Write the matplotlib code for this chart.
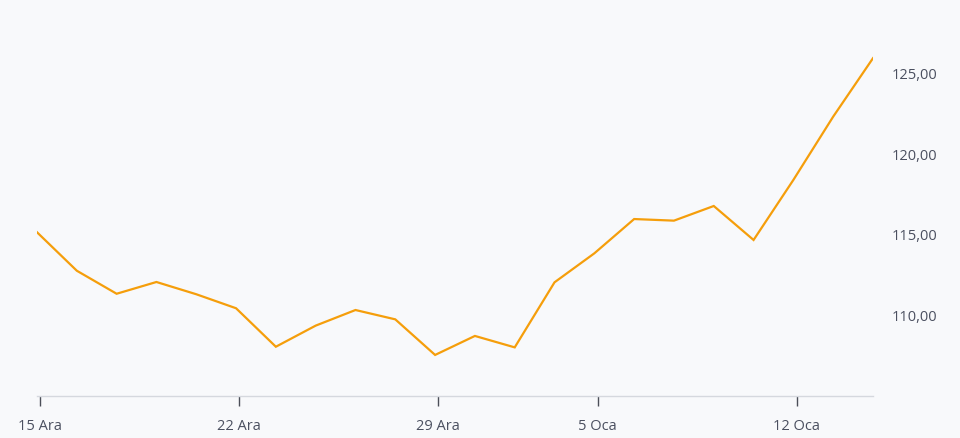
import matplotlib.pyplot as plt
from matplotlib.ticker import FuncFormatter

# trading days, 15 Ara -> 14 Oca (weekends and 1 Oca skipped)
days = ["15 Ara", "16 Ara", "17 Ara", "18 Ara", "19 Ara",
        "22 Ara", "23 Ara", "24 Ara", "25 Ara", "26 Ara",
        "29 Ara", "30 Ara", "31 Ara", "2 Oca",
        "5 Oca", "6 Oca", "7 Oca", "8 Oca", "9 Oca",
        "12 Oca", "13 Oca", "14 Oca"]
prices = [115.17, 112.78, 111.35, 112.08, 111.32,
          110.45, 108.06, 109.37, 110.34, 109.76,
          107.55, 108.73, 108.02, 112.06,
          113.86, 115.99, 115.89, 116.80, 114.69,
          118.42, 122.35, 125.98]
tick_days = ["15 Ara", "22 Ara", "29 Ara", "5 Oca", "12 Oca"]
y_ticks = [110, 115, 120, 125]

bg = "#f8f9fb"
plt.rcParams['font.family'] = ['Open Sans', 'DejaVu Sans']

fig = plt.figure(figsize=(9.6, 4.38), dpi=100, facecolor=bg)
W, H = 960, 438
left, right, top, bottom = 37, 873, 30, 396
ax = fig.add_axes([left / W, 1 - bottom / H, (right - left) / W, (bottom - top) / H])
ax.set_facecolor(bg)

x = list(range(len(days)))
ax.plot(x, prices, color="#f59e0b", lw=1.6, solid_joinstyle="miter")

ax.set_xlim(0, len(days) - 1)
ax.set_ylim(105.0, 127.73)

# day ticks sit a little right of the data points
ax.set_xticks([days.index(d) + 0.08 for d in tick_days])
ax.set_xticklabels(tick_days)
ax.set_yticks(y_ticks)
ax.yaxis.set_major_formatter(FuncFormatter(lambda v, p: f"{v:.2f}".replace(".", ",")))
ax.yaxis.tick_right()

for s in ["top", "right", "left"]:
    ax.spines[s].set_visible(False)
ax.spines["bottom"].set_color("#d5d8de")
ax.spines["bottom"].set_linewidth(1)

ax.tick_params(axis="x", length=7.5, width=1, color="#4b4f58", pad=9,
               labelsize=10.5, labelcolor="#4b5060")
ax.tick_params(axis="y", length=0, pad=13.5, labelsize=10.5, labelcolor="#4b5060")

fig.savefig("out.png", dpi=100, facecolor=bg)
